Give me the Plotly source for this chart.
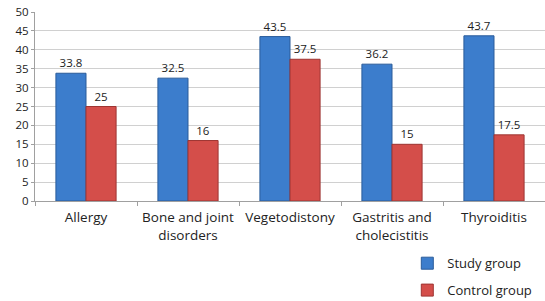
import plotly.graph_objects as go

categories = ["Allergy", "Bone and joint<br>disorders", "Vegetodistony", "Gastritis and<br>cholecistitis", "Thyroiditis"]
study_group = [33.8, 32.5, 43.5, 36.2, 43.7]
control_group = [25, 16, 37.5, 15, 17.5]
study_labels = ["33.8", "32.5", "43.5", "36.2", "43.7"]
control_labels = ["25", "16", "37.5", "15", "17.5"]

fig = go.Figure()
fig.add_trace(go.Bar(
    x=categories, y=study_group, name="Study group",
    text=study_labels, textposition="outside",
    marker=dict(color="#3c7dcc", line=dict(color="#2a5c9a", width=1)),
    legendgroup="a",
))
fig.add_trace(go.Bar(
    x=categories, y=control_group, name="Control group",
    text=control_labels, textposition="outside",
    marker=dict(color="#d44e4a", line=dict(color="#9e3532", width=1)),
    legendgroup="b",
))

fig.update_traces(textfont=dict(size=11.5, color="#222222"), cliponaxis=False)

fig.update_layout(
    width=545, height=301,
    margin=dict(l=35, r=0, t=12, b=100, autoexpand=False),
    paper_bgcolor="white", plot_bgcolor="white",
    barmode="group", bargap=0.41, bargroupgap=0,
    font=dict(family="Open Sans, Liberation Sans, sans-serif", size=12, color="#222222"),
    showlegend=True,
    legend=dict(
        x=0.73, xanchor="left", y=-0.25, yanchor="top",
        orientation="v", traceorder="grouped", tracegroupgap=7,
        font=dict(size=13), itemwidth=30, bgcolor="rgba(0,0,0,0)",
    ),
    yaxis=dict(
        range=[0, 50], dtick=5, showgrid=True, gridcolor="#d0d0d0",
        showline=True, linecolor="#a0a0a0", ticks="outside", ticklen=3,
        tickcolor="#a0a0a0", tickfont=dict(size=11.5), zeroline=False,
    ),
    xaxis=dict(
        showline=True, linecolor="#a0a0a0", ticks="outside", tickson="boundaries",
        ticklen=4, tickcolor="#a0a0a0", tickfont=dict(size=13.5),
        ticklabelstandoff=4,
    ),
)

# remove the default 8px page margin so the figure fills the window exactly
fig.write_html("out.html", config={"displayModeBar": False},
               post_script="document.body.style.margin='0';")
